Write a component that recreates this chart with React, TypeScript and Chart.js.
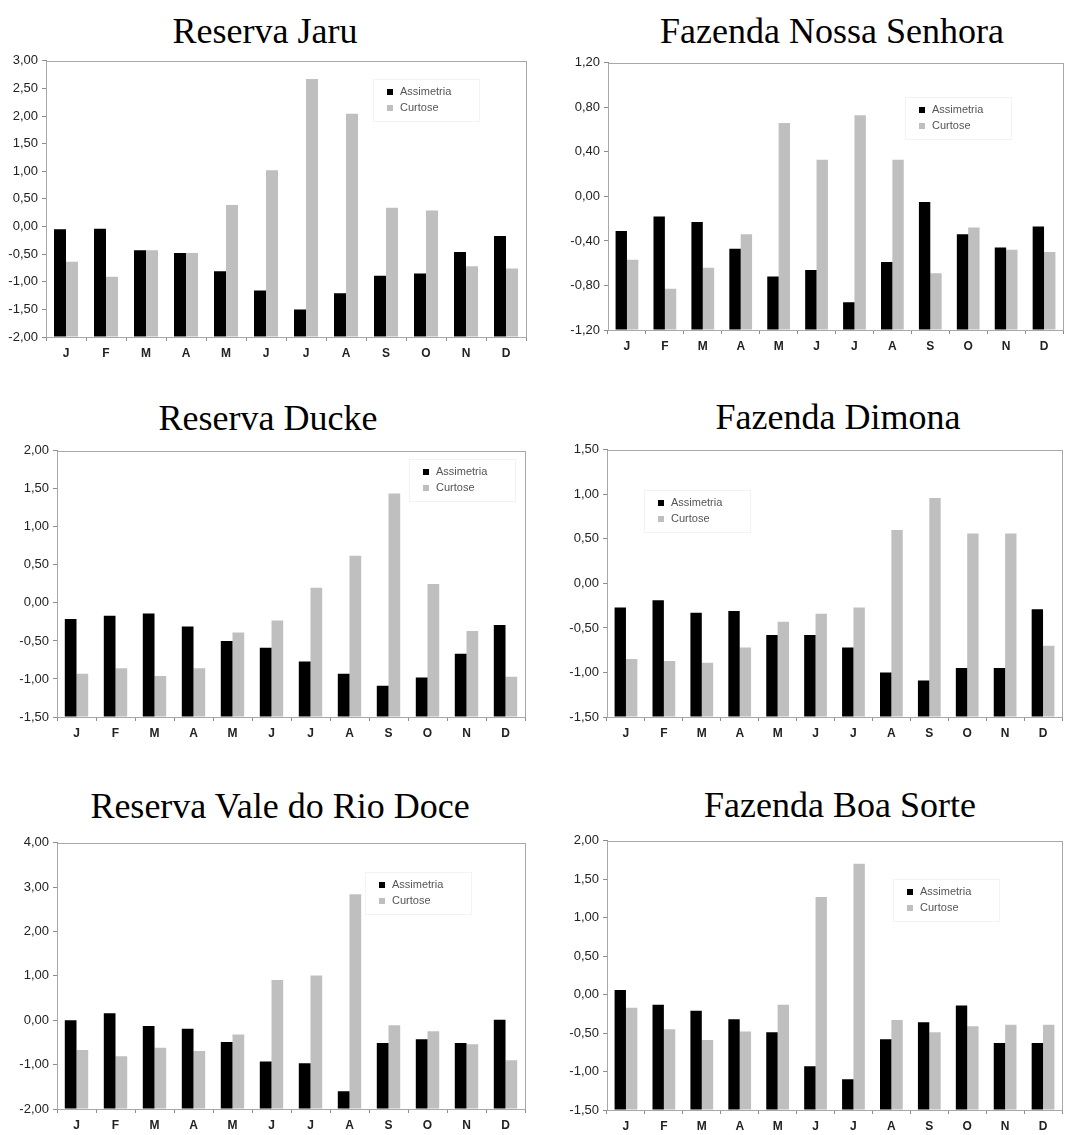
import React, { useEffect, useRef } from "react";
import { Chart, registerables } from "chart.js";

Chart.register(...registerables);

// ---------- DATA ----------
const months = ["J", "F", "M", "A", "M", "J", "J", "A", "S", "O", "N", "D"];
const seriesNames = ["Assimetria", "Curtose"];

const jaruAssimetria = [-0.05, -0.04, -0.43, -0.48, -0.81, -1.16, -1.5, -1.21, -0.89, -0.85, -0.46, -0.17];
const jaruCurtose = [-0.64, -0.91, -0.43, -0.48, 0.39, 1.02, 2.67, 2.04, 0.34, 0.29, -0.72, -0.76];
const jaruTicks = [-2, -1.5, -1, -0.5, 0, 0.5, 1, 1.5, 2, 2.5, 3];

const nossaAssimetria = [-0.31, -0.18, -0.23, -0.47, -0.72, -0.66, -0.95, -0.59, -0.05, -0.34, -0.46, -0.27];
const nossaCurtose = [-0.57, -0.83, -0.64, -0.34, 0.66, 0.33, 0.73, 0.33, -0.69, -0.28, -0.48, -0.5];
const nossaTicks = [-1.2, -0.8, -0.4, 0, 0.4, 0.8, 1.2];

const duckeAssimetria = [-0.21, -0.17, -0.14, -0.31, -0.5, -0.59, -0.77, -0.93, -1.09, -0.98, -0.67, -0.29];
const duckeCurtose = [-0.93, -0.86, -0.96, -0.86, -0.39, -0.23, 0.2, 0.62, 1.44, 0.25, -0.37, -0.97];
const duckeTicks = [-1.5, -1, -0.5, 0, 0.5, 1, 1.5, 2];

const dimonaAssimetria = [-0.27, -0.19, -0.33, -0.31, -0.58, -0.58, -0.72, -1.0, -1.09, -0.95, -0.95, -0.29];
const dimonaCurtose = [-0.85, -0.87, -0.89, -0.72, -0.43, -0.34, -0.27, 0.6, 0.96, 0.56, 0.56, -0.7];
const dimonaTicks = [-1.5, -1, -0.5, 0, 0.5, 1, 1.5];

const valeAssimetria = [0.0, 0.16, -0.13, -0.19, -0.49, -0.93, -0.97, -1.6, -0.51, -0.43, -0.51, 0.01];
const valeCurtose = [-0.67, -0.81, -0.62, -0.69, -0.32, 0.91, 1.01, 2.84, -0.11, -0.25, -0.54, -0.9];
const valeTicks = [-2, -1, 0, 1, 2, 3, 4];

const boaAssimetria = [0.06, -0.13, -0.21, -0.32, -0.49, -0.93, -1.1, -0.58, -0.36, -0.14, -0.63, -0.63];
const boaCurtose = [-0.17, -0.45, -0.59, -0.48, -0.13, 1.27, 1.7, -0.33, -0.49, -0.41, -0.39, -0.39];
const boaTicks = [-1.5, -1, -0.5, 0, 0.5, 1, 1.5, 2];

// ---------- LAYOUT / STYLE ----------
const Y_AXIS_W = 46;
const PAD_TOP = 10;
const PAD_RIGHT = 10;
const X_AXIS_H = 28;

type PanelCfg = {
  title: string;
  assim: number[];
  curt: number[];
  ticks: number[];
  plot: { left: number; top: number; right: number; bottom: number };
  titlePos: { x: number; y: number };
  legend: { dx: number; dy: number };
};

const panels: PanelCfg[] = [
  {
    title: "Reserva Jaru",
    assim: jaruAssimetria,
    curt: jaruCurtose,
    ticks: jaruTicks,
    plot: { left: 46, top: 59, right: 526, bottom: 337 },
    titlePos: { x: 265, y: 31 },
    legend: { dx: 341, dy: 31 },
  },
  {
    title: "Fazenda Nossa Senhora",
    assim: nossaAssimetria,
    curt: nossaCurtose,
    ticks: nossaTicks,
    plot: { left: 608, top: 61, right: 1063, bottom: 330 },
    titlePos: { x: 832, y: 31 },
    legend: { dx: 311, dy: 47 },
  },
  {
    title: "Reserva Ducke",
    assim: duckeAssimetria,
    curt: duckeCurtose,
    ticks: duckeTicks,
    plot: { left: 57, top: 449, right: 525, bottom: 717 },
    titlePos: { x: 268, y: 418 },
    legend: { dx: 366, dy: 21 },
  },
  {
    title: "Fazenda Dimona",
    assim: dimonaAssimetria,
    curt: dimonaCurtose,
    ticks: dimonaTicks,
    plot: { left: 607, top: 448, right: 1062, bottom: 717 },
    titlePos: { x: 838, y: 417 },
    legend: { dx: 51, dy: 53 },
  },
  {
    title: "Reserva Vale do Rio Doce",
    assim: valeAssimetria,
    curt: valeCurtose,
    ticks: valeTicks,
    plot: { left: 57, top: 841, right: 525, bottom: 1109 },
    titlePos: { x: 280, y: 806 },
    legend: { dx: 322, dy: 42 },
  },
  {
    title: "Fazenda Boa Sorte",
    assim: boaAssimetria,
    curt: boaCurtose,
    ticks: boaTicks,
    plot: { left: 607, top: 839, right: 1062, bottom: 1110 },
    titlePos: { x: 840, y: 805 },
    legend: { dx: 300, dy: 51 },
  },
];

const fmt = (v: number) => v.toFixed(2).replace(".", ",");

const framePlugin = {
  id: "plotFrame",
  beforeDatasetsDraw(chart: any) {
    const { ctx, chartArea } = chart;
    ctx.save();
    ctx.strokeStyle = "#a8a8a8";
    ctx.lineWidth = 1;
    ctx.strokeRect(
      Math.round(chartArea.left) + 0.5,
      Math.round(chartArea.top) + 0.5,
      Math.round(chartArea.right - chartArea.left),
      Math.round(chartArea.bottom - chartArea.top)
    );
    ctx.restore();
  },
};

const insideLegendPlugin = {
  id: "insideLegend",
  afterDatasetsDraw(chart: any, _args: any, opts: any) {
    const { ctx, chartArea } = chart;
    const x0 = chartArea.left + opts.dx;
    const y0 = chartArea.top + opts.dy;
    const gap = 16.5;
    ctx.save();
    ctx.strokeStyle = "#f3f3f3";
    ctx.lineWidth = 1;
    ctx.strokeRect(Math.round(x0 - 14) + 0.5, Math.round(y0 - 13) + 0.5, 106, 42);
    ctx.font = '11px "Liberation Sans", Arial, sans-serif';
    ctx.textBaseline = "middle";
    ctx.textAlign = "left";
    chart.data.datasets.forEach((ds: any, i: number) => {
      const y = y0 + i * gap;
      ctx.fillStyle = ds.backgroundColor;
      ctx.fillRect(Math.round(x0), Math.round(y - 3), 6, 6);
      ctx.fillStyle = "#555";
      ctx.fillText(ds.label, x0 + 13, y);
    });
    ctx.restore();
  },
};

function Panel({ cfg }: { cfg: PanelCfg }) {
  const ref = useRef<HTMLCanvasElement | null>(null);
  const cLeft = cfg.plot.left - Y_AXIS_W;
  const cTop = cfg.plot.top - PAD_TOP;
  const cW = cfg.plot.right + PAD_RIGHT - cLeft;
  const cH = cfg.plot.bottom + X_AXIS_H - cTop;

  useEffect(() => {
    if (!ref.current) return;
    const yMin = cfg.ticks[0];
    const yMax = cfg.ticks[cfg.ticks.length - 1];
    const chart = new Chart(ref.current, {
      type: "bar",
      data: {
        labels: months,
        datasets: [
          {
            label: seriesNames[0],
            data: cfg.assim,
            backgroundColor: "#000000",
            base: yMin,
            barPercentage: 1,
            categoryPercentage: 0.6,
          } as any,
          {
            label: seriesNames[1],
            data: cfg.curt,
            backgroundColor: "#bfbfbf",
            base: yMin,
            barPercentage: 1,
            categoryPercentage: 0.6,
          } as any,
        ],
      },
      options: {
        animation: false,
        responsive: false,
        maintainAspectRatio: false,
        devicePixelRatio: 1,
        layout: { padding: { top: PAD_TOP, right: PAD_RIGHT, left: 0, bottom: 0 } },
        plugins: {
          legend: { display: false },
          tooltip: { enabled: false },
          title: { display: false },
          insideLegend: cfg.legend,
        } as any,
        scales: {
          x: {
            grid: {
              offset: true,
              drawOnChartArea: false,
              drawTicks: true,
              tickLength: 4,
              color: "#8c8c8c",
            },
            border: { display: true, color: "#8c8c8c", width: 1 },
            ticks: {
              color: "#222",
              padding: 5,
              maxRotation: 0,
              autoSkip: false,
              font: { family: '"Liberation Sans", Arial, sans-serif', size: 12, weight: "bold" },
            },
            afterFit: (s: any) => {
              s.height = X_AXIS_H;
            },
          },
          y: {
            min: yMin,
            max: yMax,
            afterBuildTicks: (s: any) => {
              s.ticks = cfg.ticks.map((v) => ({ value: v }));
            },
            grid: {
              drawOnChartArea: false,
              drawTicks: true,
              tickLength: 4,
              color: "#8c8c8c",
            },
            border: { display: true, color: "#8c8c8c", width: 1 },
            ticks: {
              color: "#222",
              padding: 4,
              callback: (v: any) => fmt(Number(v)),
              font: { family: '"Liberation Sans", Arial, sans-serif', size: 13 },
            },
            afterFit: (s: any) => {
              s.width = Y_AXIS_W;
            },
          },
        },
      },
      plugins: [framePlugin, insideLegendPlugin],
    });
    return () => chart.destroy();
  }, [cfg]);

  return (
    <>
      <div
        style={{
          position: "absolute",
          left: cfg.titlePos.x - 270,
          top: cfg.titlePos.y - 22,
          width: 540,
          height: 44,
          lineHeight: "44px",
          textAlign: "center",
          fontFamily: '"Liberation Serif", "Times New Roman", serif',
          fontSize: 36,
          color: "#000",
          whiteSpace: "nowrap",
        }}
      >
        {cfg.title}
      </div>
      <canvas
        ref={ref}
        width={cW}
        height={cH}
        style={{ position: "absolute", left: cLeft, top: cTop, width: cW, height: cH }}
      />
    </>
  );
}

export default function App() {
  return (
    <div
      style={{
        position: "absolute",
        left: 0,
        top: 0,
        width: 1079,
        height: 1135,
        background: "#ffffff",
        overflow: "hidden",
      }}
    >
      {panels.map((p, i) => (
        <Panel key={i} cfg={p} />
      ))}
    </div>
  );
}
